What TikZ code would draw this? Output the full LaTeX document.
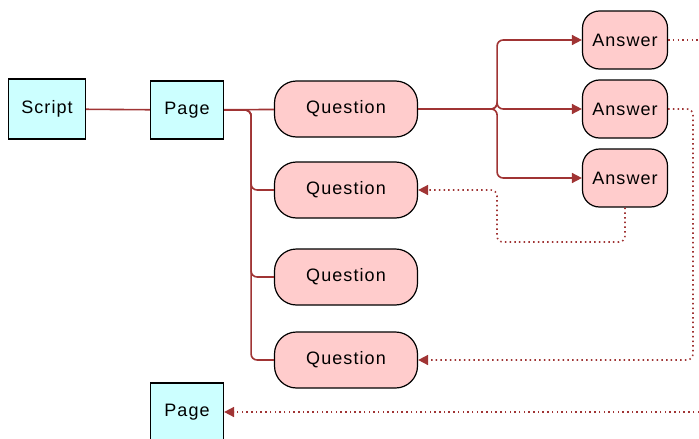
\documentclass[tikz,border=0pt]{standalone}
\usepackage{fontspec}
\setmainfont{Liberation Sans}[LetterSpace=6]
\usetikzlibrary{arrows.meta}

\definecolor{linkred}{RGB}{160,52,52}
\definecolor{boxcyan}{RGB}{204,255,255}
\definecolor{boxpink}{RGB}{255,204,204}

\tikzset{
  pagebox/.style={draw=black, line width=1.2pt, fill=boxcyan, minimum width=73pt, minimum height=58pt, inner sep=0pt},
  askbox/.style={draw=black, line width=1.2pt, fill=boxpink, rounded corners=22pt, minimum width=143pt, minimum height=56pt, inner sep=0pt},
  ansbox/.style={draw=black, line width=1.2pt, fill=boxpink, rounded corners=17pt, minimum width=85pt, minimum height=58pt, inner sep=0pt},
  link/.style={draw=linkred, line width=1.6pt, rounded corners=6pt},
  reply/.style={draw=linkred, line width=1.6pt, dash pattern=on 1.5pt off 3.2pt, rounded corners=6pt},
  headed/.style={-{Triangle[length=10pt,width=10pt]}}
}

\begin{document}
\begin{tikzpicture}[x=1pt, y=-1pt, font=\fontsize{18}{21}\selectfont]
\useasboundingbox (0,0) rectangle (699,439);

% Script and pages
\node[pagebox, minimum width=77pt, minimum height=60pt] (script) at (47,109) {Script};
\node[pagebox] (page) at (187,110) {Page};
\node[pagebox] (nextpage) at (187,412) {Page};

% Questions
\node[askbox] (q1) at (346,109) {Question};
\node[askbox] (q2) at (346,190) {Question};
\node[askbox] (q3) at (346,277) {Question};
\node[askbox] (q4) at (346,360) {Question};

% Answers
\node[ansbox] (a1) at (625,40) {Answer};
\node[ansbox] (a2) at (625,109) {Answer};
\node[ansbox] (a3) at (625,178) {Answer};

% Solid links
\draw[link] (script) -- (page);
\draw[link] (page) -- (q1);
\foreach \q in {q2,q3,q4}
  \draw[link] (page.east) -- ++(27,0) |- (\q.west);
\foreach \a in {a1,a2,a3}
  \draw[link, headed] (q1.east) -- ++(79,0) |- (\a.west);

% Dotted jumps
\coordinate (edge1) at (699,40);
\coordinate (edge2) at (693,360);
\coordinate (edge3) at (699,412);
\coordinate (loop) at (497,242);
\draw[reply] (a1.east) -- (edge1);
\draw[reply, headed] (a2.east) -| (edge2) -- (q4.east);
\draw[reply, headed] (a3.south) |- (loop) |- (q2.east);
\draw[reply, headed] (edge3) -- (nextpage.east);

\end{tikzpicture}
\end{document}
